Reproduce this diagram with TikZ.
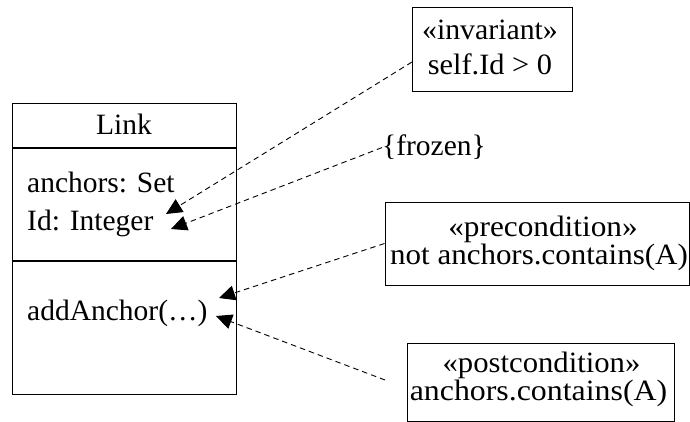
\documentclass[tikz,border=0pt]{standalone}
\usepackage{fontspec}
\setmainfont{Liberation Serif}
\usetikzlibrary{arrows.meta}
\begin{document}
\begin{tikzpicture}[x=1pt,y=-1pt,
  txt/.style={inner sep=0pt, font=\fontsize{29.5}{34}\selectfont},
  ln/.style={txt, anchor=base, text height=19pt, text depth=5pt},
  box/.style={draw, line width=1pt, inner sep=0pt},
  dep/.style={dashed, dash pattern=on 5.5pt off 4pt, line width=0.9pt,
    -{Triangle[length=16pt,width=15pt]}}]
\useasboundingbox (0,0) rectangle (690,422);
% class Link
\node[box, minimum width=224pt, minimum height=290pt] (link) at (124,249) {};
\draw[line width=1.7pt] (12,148) -- (236,148);
\draw[line width=1.7pt] (12,261) -- (236,261);
\node[txt, anchor=base] (name) at (124,135) {Link};
\node[txt, anchor=base west] (a1) at (27,193) {anchors: Set};
\node[txt, anchor=base west] (a2) at (27,230) {Id: Integer};
\node[txt, anchor=base west] (op) at (27,320) {addAnchor(\ldots)};
% notes
\node[box, minimum width=160pt, minimum height=84pt] (inv) at (492,50) {};
\node[ln] (invt1) at (490,40) {\scalebox{1.01}[1]{«invariant»}};
\node[ln] (invt2) at (490,75) {\scalebox{1.03}[1]{self.Id > 0}};
\node[txt, anchor=base] (frozen) at (434,156) {\{frozen\}};
\node[box, minimum width=304pt, minimum height=83pt] (pre) at (537,243.5) {};
\node[ln] (pret1) at (543,236) {\scalebox{1.06}[1]{«precondition»}};
\node[ln] (pret2) at (539,264) {\scalebox{1.05}[1]{not anchors.contains(A)}};
\node[box, minimum width=267pt, minimum height=78pt] (post) at (540.5,382) {};
\node[ln] (postt1) at (541.5,372) {\scalebox{1.04}[1]{«postcondition»}};
\node[ln] (postt2) at (538.5,400) {\scalebox{1.08}[1]{anchors.contains(A)}};
% connector endpoints
\coordinate (s1) at (412,62);
\coordinate (t1) at (166,214);
\coordinate (t2) at (171,229);
\coordinate (t3) at (219,298);
\coordinate (t4) at (216,316);
\coordinate (s4) at (385,380);
\draw[dep] (s1) -- (t1);
\draw[dep] (frozen.west) -- (t2);
\draw[dep] (pre.west) -- (t3);
\draw[dep] (s4) -- (t4);
\end{tikzpicture}
\end{document}
